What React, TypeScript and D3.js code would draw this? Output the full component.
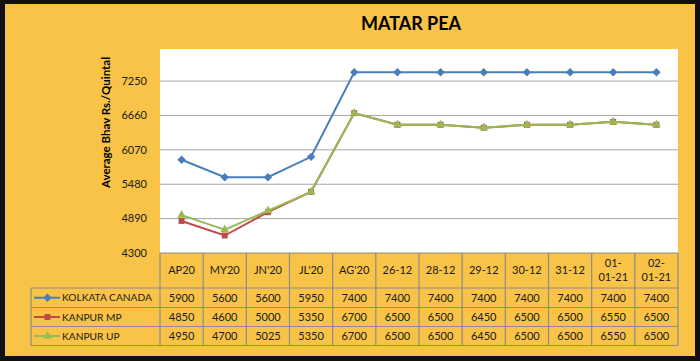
import React from "react";
import * as d3 from "d3";

const categories = ["AP20", "MY20", "JN'20", "JL'20", "AG'20", "26-12", "28-12", "29-12", "30-12", "31-12", "01-01-21", "02-01-21"];
const headerLines = [["AP20"], ["MY20"], ["JN'20"], ["JL'20"], ["AG'20"], ["26-12"], ["28-12"], ["29-12"], ["30-12"], ["31-12"], ["01-", "01-21"], ["02-", "01-21"]];
const kolkataCanada = [5900, 5600, 5600, 5950, 7400, 7400, 7400, 7400, 7400, 7400, 7400, 7400];
const kanpurMP = [4850, 4600, 5000, 5350, 6700, 6500, 6500, 6450, 6500, 6500, 6550, 6500];
const kanpurUP = [4950, 4700, 5025, 5350, 6700, 6500, 6500, 6450, 6500, 6500, 6550, 6500];
const yTicks = [4300, 4890, 5480, 6070, 6660, 7250];

const series = [
  { name: "KOLKATA CANADA", values: kolkataCanada, color: "#4A7EBB", marker: "diamond" },
  { name: "KANPUR MP", values: kanpurMP, color: "#BE4B48", marker: "square" },
  { name: "KANPUR UP", values: kanpurUP, color: "#98B954", marker: "triangle" },
];

const W = 700;
const H = 361;
const plot = { left: 160, right: 678, top: 49, bottom: 253 };
const tableLeft = 31;
const rowEdges = [253, 288, 307.5, 326.5, 345.5];
const font = "Lato, 'Open Sans', sans-serif";
const ink = "#1a1a1a";
const gridGray = "#a6a6a6";
const tableGray = "#8c8c8c";

const markerPath = (type: string, size: number) => {
  const sym = type === "diamond" ? d3.symbolDiamond2 : type === "square" ? d3.symbolSquare2 : d3.symbolTriangle2;
  return d3.symbol(sym, size)() || "";
};

const App: React.FC = () => {
  const x = d3.scaleBand<string>().domain(categories).range([plot.left, plot.right]);
  const y = d3.scaleLinear().domain([4300, 7800]).range([plot.bottom, plot.top]);
  const cx = (c: string) => (x(c) || 0) + x.bandwidth() / 2;

  const line = d3
    .line<number>()
    .x((_, i) => cx(categories[i]))
    .y(d => y(d));

  return (
    <svg width={W} height={H} style={{ position: "absolute", left: 0, top: 0 }} fontFamily={font}>
      <rect x={0} y={0} width={W} height={H} fill="#111" />
      <rect x={5} y={4} width={690} height={352} fill="#F8C346" />

      <text x={411} y={30} textAnchor="middle" fontSize={18} fontWeight="bold" fill="#000">
        MATAR PEA
      </text>

      {/* plot area */}
      <rect x={plot.left} y={plot.top} width={plot.right - plot.left} height={plot.bottom - plot.top} fill="#fff" />
      {yTicks.slice(1).map(t => (
        <line key={t} x1={plot.left} x2={plot.right} y1={y(t)} y2={y(t)} stroke={gridGray} strokeWidth={1} />
      ))}
      {yTicks.map(t => (
        <text key={t} x={147} y={y(t)} dy="0.35em" textAnchor="end" fontSize={11} fill={ink}>
          {t}
        </text>
      ))}
      <text
        transform={`translate(110,122.5) rotate(-90)`}
        textAnchor="middle"
        fontSize={11.5}
        fontWeight="bold"
        fill="#000"
      >
        Average Bhav Rs./Quintal
      </text>

      {series.map(s => (
        <g key={s.name}>
          <path d={line(s.values) || ""} fill="none" stroke={s.color} strokeWidth={2} />
          {s.values.map((v, i) => (
            <path
              key={i}
              d={markerPath(s.marker, s.marker === "triangle" ? 55 : 45)}
              transform={`translate(${cx(categories[i])},${y(v)})`}
              fill={s.color}
            />
          ))}
        </g>
      ))}

      {/* data table */}
      <g stroke={tableGray} strokeWidth={1.2} fill="none">
        <line x1={plot.left} x2={plot.right} y1={rowEdges[0]} y2={rowEdges[0]} />
        {rowEdges.slice(1).map(r => (
          <line key={r} x1={tableLeft} x2={plot.right} y1={r} y2={r} />
        ))}
        <line x1={tableLeft} x2={tableLeft} y1={rowEdges[1]} y2={rowEdges[4]} />
        {categories.map(c => (
          <line key={c} x1={x(c)} x2={x(c)} y1={rowEdges[0]} y2={rowEdges[4]} />
        ))}
        <line x1={plot.right} x2={plot.right} y1={rowEdges[0]} y2={rowEdges[4]} />
      </g>

      {categories.map((c, i) => {
        const lines = headerLines[i];
        const mid = (rowEdges[0] + rowEdges[1]) / 2;
        return (
          <text key={c} x={cx(c)} textAnchor="middle" fontSize={11} fill={ink}>
            {lines.map((l, j) => (
              <tspan key={j} x={cx(c)} y={mid + (j - (lines.length - 1) / 2) * 14} dy="0.35em">
                {l}
              </tspan>
            ))}
          </text>
        );
      })}

      {series.map((s, r) => {
        const mid = (rowEdges[r + 1] + rowEdges[r + 2]) / 2;
        return (
          <g key={s.name}>
            <line x1={34} x2={60} y1={mid} y2={mid} stroke={s.color} strokeWidth={2} />
            <path
              d={markerPath(s.marker, s.marker === "triangle" ? 55 : 45)}
              transform={`translate(47.5,${mid})`}
              fill={s.color}
            />
            <text x={62} y={mid} dy="0.35em" fontSize={10.2} fill={ink}>
              {s.name}
            </text>
            {s.values.map((v, i) => (
              <text key={i} x={cx(categories[i])} y={mid} dy="0.35em" textAnchor="middle" fontSize={11} fill={ink}>
                {v}
              </text>
            ))}
          </g>
        );
      })}
    </svg>
  );
};

export default App;
